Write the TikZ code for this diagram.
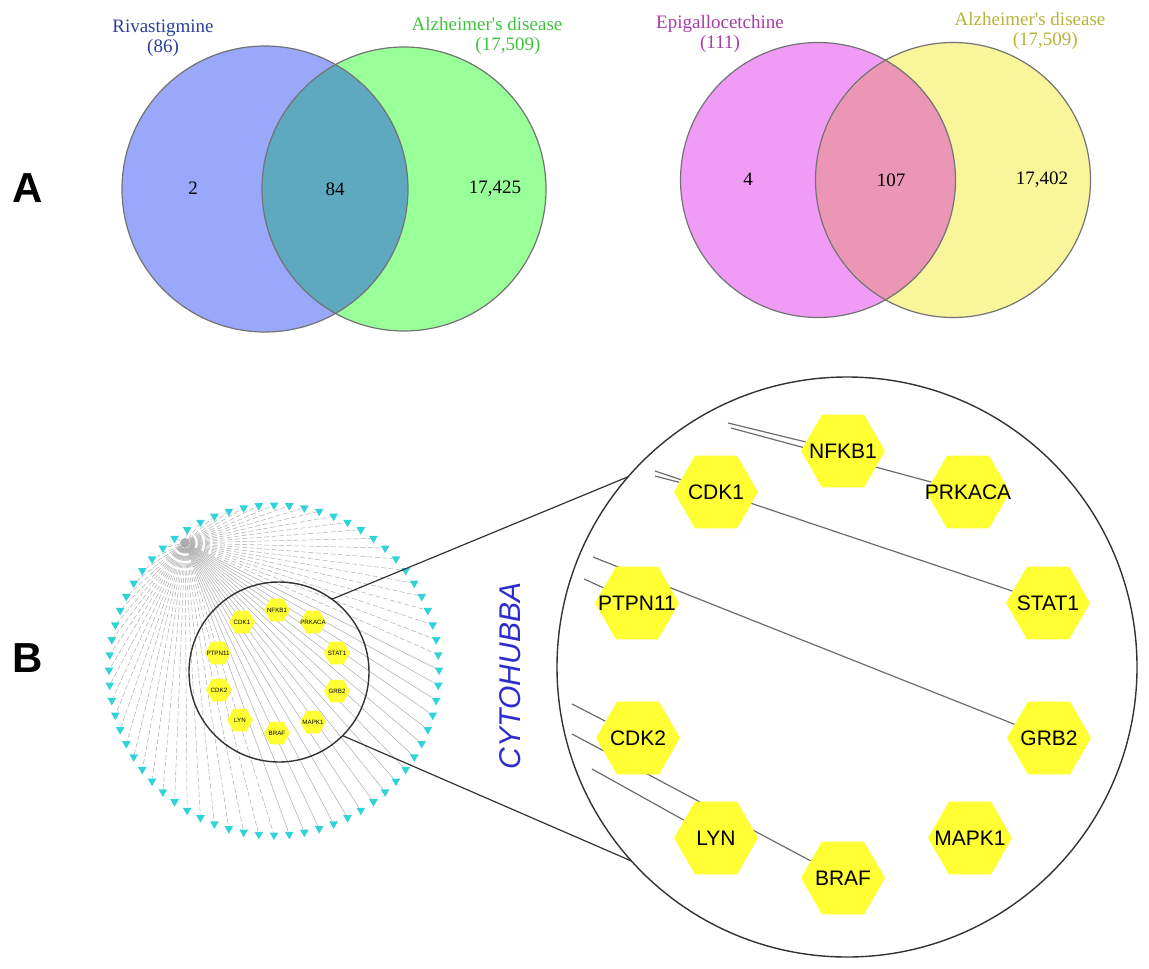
\documentclass[tikz,border=0pt]{standalone}
\usepackage{fontspec}
\setmainfont{Liberation Serif}
\setsansfont{Liberation Sans}
\usetikzlibrary{shapes.geometric, backgrounds, calc}
\definecolor{rvFill}{HTML}{99A8FA}
\definecolor{adFill}{HTML}{99FF99}
\definecolor{rvOver}{HTML}{5EA8C0}
\definecolor{egFill}{HTML}{F09BF5}
\definecolor{ayFill}{HTML}{F8F59B}
\definecolor{egOver}{HTML}{EB96B4}
\definecolor{rvText}{HTML}{2C3E9C}
\definecolor{adText}{HTML}{3DC43D}
\definecolor{egText}{HTML}{A93BA9}
\definecolor{ayText}{HTML}{B5B437}
\definecolor{hexYellow}{HTML}{FFFF33}
\definecolor{ringCyan}{HTML}{2FD3D8}
\definecolor{cytoBlue}{HTML}{2D2DCC}
\newcommand{\gene}[1]{\makebox[0pt]{#1}}
\tikzset{
  vennline/.style={draw=black!55, line width=0.6pt},
  vennlabel/.style={font=\fontsize{9.5}{10}\selectfont, align=center, inner sep=0pt},
  venncount/.style={font=\fontsize{9.5}{10}\selectfont, inner sep=0pt},
  panel/.style={font=\sffamily\bfseries\fontsize{21}{21}\selectfont},
  hubhex/.style={
    regular polygon, regular polygon sides=6, fill=hexYellow,
    minimum size=42pt, inner sep=0pt, font=\sffamily\fontsize{10.5}{11}\selectfont
  },
  minihex/.style={hubhex, minimum size=13pt, font=\sffamily\fontsize{3.1}{3.2}\selectfont},
  ringnode/.style={regular polygon, regular polygon sides=3, shape border rotate=180,
    fill=ringCyan, minimum size=5pt, inner sep=0pt},
  hubnode/.style={circle, fill=gray!65, minimum size=5pt, inner sep=0pt},
  lensring/.style={circle, draw=black!80, line width=0.7pt, inner sep=0pt, outer sep=0pt},
  netedge/.style={gray!65, line width=0.25pt},
  lensline/.style={gray!85!black, line width=0.6pt},
  zoomline/.style={black!80, line width=0.6pt}
}
\begin{document}
\begin{tikzpicture}[x=0.5pt, y=-0.5pt]
  \useasboundingbox (0,0) rectangle (1149,968);
  % panel letters
  \node[panel] (pA) at (28,188) {A};
  \node[panel] (pB) at (28,658) {B};

  % Venn: rivastigmine vs AD
  \fill[rvFill] (265,189) circle[radius=143];
  \fill[adFill] (404,189) circle[radius=142];
  \begin{scope}
    \clip (265,189) circle[radius=143];
    \fill[rvOver] (404,189) circle[radius=142];
  \end{scope}
  \draw[vennline] (265,189) circle[radius=143];
  \draw[vennline] (404,189) circle[radius=142];
  \node[vennlabel, text=rvText] (rvName) at (163,38) {Rivastigmine\\(86)};
  \node[vennlabel, text=adText] (adName) at (487,36) {Alzheimer\textquotesingle s disease\\\hspace*{2.2em}(17,509)};
  \node[venncount] (rvOnly) at (193,188) {2};
  \node[venncount] (rvBoth) at (335,189) {84};
  \node[venncount] (adOnly) at (495,189) {17,425};

  % Venn: epigallocatechin vs AD
  \fill[egFill] (818,180) circle[radius=137.5];
  \fill[ayFill] (953,180) circle[radius=137.5];
  \begin{scope}
    \clip (818,180) circle[radius=137.5];
    \fill[egOver] (953,180) circle[radius=137.5];
  \end{scope}
  \draw[vennline] (818,180) circle[radius=137.5];
  \draw[vennline] (953,180) circle[radius=137.5];
  \node[vennlabel, text=egText] (egName) at (720,34) {Epigallocetchine\\(111)};
  \node[vennlabel, text=ayText] (ayName) at (1030,31) {Alzheimer\textquotesingle s disease\\\hspace*{1.6em}(17,509)};
  \node[venncount] (egOnly) at (748,179) {4};
  \node[venncount] (egBoth) at (891,180) {107};
  \node[venncount] (ayOnly) at (1042,180) {17,402};

  % full network
  \node[hubnode] (hub) at (185,543) {};
  \foreach \i in {1,...,68}
    \node[ringnode] (r\i) at ({274+165*cos(\i*5.2941)},{670-165*sin(\i*5.2941)}) {};
  \begin{scope}[on background layer]
    \foreach \i in {1,...,51}
      \draw[netedge, dash pattern=on 2.5pt off 1.2pt] (hub) -- (r\i);
    \foreach \i in {52,...,68}
      \draw[netedge] (hub) -- (r\i);
  \end{scope}

  % hub genes, small
  \node[minihex] (sNFKB1) at (277,610) {\gene{NFKB1}};
  \node[minihex] (sPRKACA) at (313,622) {\gene{PRKACA}};
  \node[minihex] (sSTAT1) at (337,653) {\gene{STAT1}};
  \node[minihex] (sGRB2) at (337,691) {\gene{GRB2}};
  \node[minihex] (sMAPK1) at (313,722) {\gene{MAPK1}};
  \node[minihex] (sBRAF) at (277,733) {\gene{BRAF}};
  \node[minihex] (sLYN) at (240,720) {\gene{LYN}};
  \node[minihex] (sCDK2) at (219,690) {\gene{CDK2}};
  \node[minihex] (sPTPN11) at (218,653) {\gene{PTPN11}};
  \node[minihex] (sCDK1) at (242,622) {\gene{CDK1}};

  \node[lensring, minimum size=90pt] (lens) at (279,672) {};
  \node[lensring, minimum size=290pt] (zoom) at (847,667) {};
  \draw[zoomline] (lens.54) -- (zoom.139);
  \draw[zoomline] (lens.-45) -- (zoom.222);

  \node[rotate=90, text=cytoBlue, font=\sffamily\itshape\fontsize{15}{15}\selectfont] (cyto) at (510,676) {CYTOHUBBA};

  % hub genes, zoomed
  \node[hubhex] (NFKB1) at (843,451) {\gene{NFKB1}};
  \node[hubhex] (PRKACA) at (968,492) {\gene{PRKACA}};
  \node[hubhex] (STAT1) at (1048,603) {\gene{STAT1}};
  \node[hubhex] (GRB2) at (1049,738) {\gene{GRB2}};
  \node[hubhex] (MAPK1) at (970,838) {\gene{MAPK1}};
  \node[hubhex] (BRAF) at (843,878) {\gene{BRAF}};
  \node[hubhex] (LYN) at (716,838) {\gene{LYN}};
  \node[hubhex] (CDK2) at (638,738) {\gene{CDK2}};
  \node[hubhex] (PTPN11) at (637,603) {\gene{PTPN11}};
  \node[hubhex] (CDK1) at (716,492) {\gene{CDK1}};

  \coordinate (n1) at (728,423);
  \coordinate (n2) at (731,428);
  \coordinate (c1) at (655,471);
  \coordinate (c2) at (655,476);
  \coordinate (p1) at (593,557);
  \coordinate (p2) at (584,579);
  \coordinate (k1) at (572,704);
  \coordinate (k2) at (572,734);
  \coordinate (l1) at (592,769);
  \begin{scope}[on background layer]
    \draw[lensline] (n1) -- (NFKB1);
    \draw[lensline] (n2) -- (PRKACA);
    \draw[lensline] (c1) -- (STAT1);
    \draw[lensline] (c2) -- (CDK1);
    \draw[lensline] (p1) -- (GRB2);
    \draw[lensline] (p2) -- (PTPN11);
    \draw[lensline] (k1) -- (CDK2);
    \draw[lensline] (k2) -- (BRAF);
    \draw[lensline] (l1) -- (LYN);
  \end{scope}
\end{tikzpicture}
\end{document}
